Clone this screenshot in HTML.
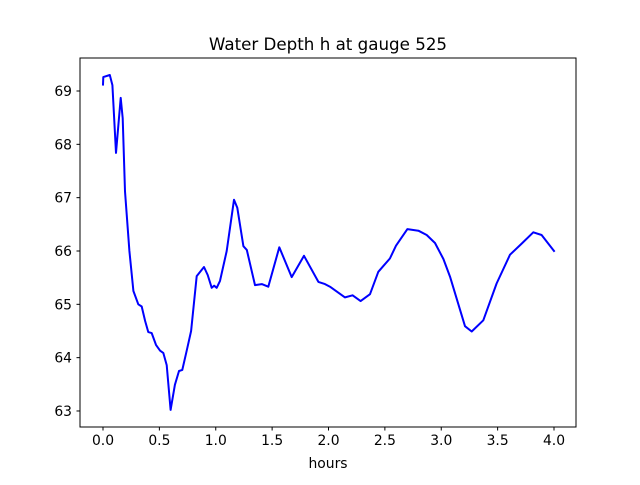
<!DOCTYPE html>
<html><head><meta charset="utf-8"><style>
html,body{margin:0;padding:0;background:#fff;}
svg text{font-family:"DejaVu Sans","Liberation Sans",sans-serif;fill:#000;}
</style></head><body>
<svg id="chart" width="640" height="480" xmlns="http://www.w3.org/2000/svg">
<rect x="0" y="0" width="640" height="480" fill="#fff"/>
<text x="328" y="50" text-anchor="middle" font-size="16.7">Water Depth h at gauge 525</text>
<g id="plot"></g>
<rect x="80" y="58" width="496" height="369" fill="none" stroke="#000" stroke-width="1"/>
<text x="328" y="468" text-anchor="middle" font-size="13.9">hours</text>
</svg>
<script>
const hours=[0,0.003,0.06,0.083,0.115,0.157,0.175,0.195,0.234,0.27,0.313,0.343,0.373,0.402,0.432,0.47,0.506,0.535,0.565,0.6,0.638,0.674,0.703,0.742,0.781,0.831,0.896,0.929,0.964,0.985,1.008,1.038,1.097,1.162,1.191,1.245,1.275,1.348,1.408,1.466,1.564,1.674,1.783,1.91,1.969,2.013,2.146,2.214,2.285,2.368,2.442,2.545,2.599,2.7,2.797,2.871,2.945,3.019,3.078,3.211,3.27,3.373,3.491,3.61,3.714,3.816,3.89,4.0];
const depth=[69.12,69.26,69.30,69.11,67.84,68.87,68.49,67.12,66.0,65.25,65.0,64.96,64.69,64.48,64.46,64.24,64.13,64.09,63.86,63.02,63.49,63.75,63.77,64.13,64.5,65.53,65.7,65.55,65.31,65.35,65.31,65.44,66.0,66.96,66.81,66.09,66.02,65.36,65.38,65.33,66.07,65.51,65.91,65.42,65.38,65.33,65.13,65.17,65.06,65.19,65.61,65.86,66.1,66.41,66.38,66.30,66.15,65.85,65.52,64.59,64.49,64.70,65.39,65.93,66.14,66.35,66.30,66.0];
const xTicks=[0,0.5,1,1.5,2,2.5,3,3.5,4];
const xTickLabels=["0.0","0.5","1.0","1.5","2.0","2.5","3.0","3.5","4.0"];
const yTicks=[63,64,65,66,67,68,69];
const yTickLabels=["63","64","65","66","67","68","69"];
const NS="http://www.w3.org/2000/svg";
const X=v=>103+v*112.75;
const Y=v=>91+(69-v)*53.33;
const g=document.getElementById('plot');
function mk(t,a){const e=document.createElementNS(NS,t);for(const k in a)e.setAttribute(k,a[k]);return e;}
xTicks.forEach((v,i)=>{
  const l=mk('line',{x1:X(v),x2:X(v),y1:427,y2:430.5,stroke:'#000','stroke-width':1});
  
  
  g.appendChild(l);
  const t=mk('text',{x:X(v),y:445,'text-anchor':'middle','font-size':13.9});
  
  
  t.textContent=xTickLabels[i];g.appendChild(t);
});
yTicks.forEach((v,i)=>{
  const l=mk('line',{x1:76.5,x2:80,y1:Y(v),y2:Y(v),stroke:'#000','stroke-width':1});
  
  
  g.appendChild(l);
  const t=mk('text',{x:72,y:Y(v)+5,'text-anchor':'end','font-size':13.9});
  
  
  t.textContent=yTickLabels[i];g.appendChild(t);
});
let d='';
hours.forEach((h,i)=>{d+=(i?'L':'M')+X(h).toFixed(1)+','+Y(depth[i]).toFixed(1);});
const p=mk('path',{d:d,fill:'none',stroke:'#0000ff','stroke-width':2,'stroke-linejoin':'round','stroke-linecap':'square'});


g.appendChild(p);
</script>
</body></html>
